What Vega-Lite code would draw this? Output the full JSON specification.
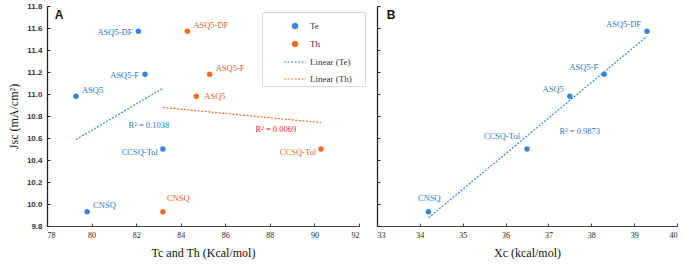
{
  "$schema": "https://vega.github.io/schema/vega-lite/v6.json",
  "padding": {"left": 7, "top": 2, "right": 2, "bottom": 2},
  "background": "white",
  "spacing": 16,
  "datasets": {
    "teth": [
      {"compound": "ASQ5-DF", "series": "Te", "T": 82.1, "Jsc": 11.57},
      {"compound": "ASQ5-F", "series": "Te", "T": 82.4, "Jsc": 11.18},
      {"compound": "ASQ5", "series": "Te", "T": 79.3, "Jsc": 10.98},
      {"compound": "CCSQ-Tol", "series": "Te", "T": 83.2, "Jsc": 10.5},
      {"compound": "CNSQ", "series": "Te", "T": 79.8, "Jsc": 9.93},
      {"compound": "ASQ5-DF", "series": "Th", "T": 84.3, "Jsc": 11.57},
      {"compound": "ASQ5-F", "series": "Th", "T": 85.3, "Jsc": 11.18},
      {"compound": "ASQ5", "series": "Th", "T": 84.7, "Jsc": 10.98},
      {"compound": "CCSQ-Tol", "series": "Th", "T": 90.3, "Jsc": 10.5},
      {"compound": "CNSQ", "series": "Th", "T": 83.2, "Jsc": 9.93}
    ],
    "xc": [
      {"compound": "ASQ5-DF", "Xc": 39.3, "Jsc": 11.57},
      {"compound": "ASQ5-F", "Xc": 38.3, "Jsc": 11.18},
      {"compound": "ASQ5", "Xc": 37.5, "Jsc": 10.98},
      {"compound": "CCSQ-Tol", "Xc": 36.5, "Jsc": 10.5},
      {"compound": "CNSQ", "Xc": 34.2, "Jsc": 9.93}
    ],
    "notesA": [
      {"note": "R² = 0.1038", "T": 82.57, "Jsc": 10.72, "kind": "Te"},
      {"note": "R² = 0.0069", "T": 88.27, "Jsc": 10.68, "kind": "Th"}
    ],
    "notesB": [
      {"note": "R² = 0.9873", "Xc": 37.73, "Jsc": 10.66}
    ],
    "panelA": [{"panel": "A", "T": 78.54, "Jsc": 11.717}],
    "panelB": [{"panel": "B", "Xc": 33.33, "Jsc": 11.717}]
  },
  "hconcat": [
    {
      "width": 312,
      "height": 220,
      "encoding": {
        "x": {"field": "T", "type": "quantitative",
          "scale": {"domain": [78, 92], "nice": false, "zero": false},
          "axis": {"title": "Tc and Th (Kcal/mol)", "values": [78, 80, 82, 84, 86, 88, 90, 92], "format": "d",
            "tickSize": -3, "labelPadding": 8, "labelFont": "Liberation Serif", "labelFontSize": 8, "labelColor": "#222",
            "titleFont": "Liberation Serif", "titleFontSize": 12, "titleFontWeight": "normal", "titleColor": "#111", "titlePadding": 8,
            "domainColor": "#404040", "tickColor": "#404040"}},
        "y": {"field": "Jsc", "type": "quantitative",
          "scale": {"domain": [9.8, 11.8], "nice": false, "zero": false},
          "axis": {"title": "Jsc (mA/cm²)", "values": [9.8, 10.0, 10.2, 10.4, 10.6, 10.8, 11.0, 11.2, 11.4, 11.6, 11.8], "format": ".1f",
            "tickSize": -3, "labelPadding": 8, "labelFont": "Liberation Sans", "labelFontWeight": "bold", "labelFontSize": 8, "labelColor": "#333",
            "titleFont": "Liberation Serif", "titleFontSize": 12, "titleFontWeight": "normal", "titleColor": "#111", "titlePadding": 6,
            "domainColor": "#222", "domainWidth": 1.3, "tickColor": "#222"}}
      },
      "layer": [
        {
          "data": {"name": "teth"},
          "transform": [{"regression": "Jsc", "on": "T", "groupby": ["series"]}],
          "mark": {"type": "line", "strokeDash": [2, 1.5], "strokeWidth": 1.2},
          "encoding": {
            "color": {"field": "series", "type": "nominal",
              "scale": {"domain": ["Te", "Th", "Linear (Te)", "Linear (Th)"], "range": ["#3a84d4", "#ed6d1f", "#3a84d4", "#ed6d1f"]},
              "legend": {
                "orient": "none", "legendX": 215, "legendY": 6,
                "title": "I", "titleOrient": "right", "titlePadding": 8, "titleFontSize": 9, "titleColor": "#ffffff", "titleOpacity": 0,
                "values": ["Te", "Th", "Linear (Te)", "Linear (Th)"],
                "labelFont": "Liberation Serif", "labelFontSize": 9, "labelColor": "#333",
                "strokeColor": "#d9d9d9", "padding": 2, "rowPadding": -1, "symbolOffset": 19, "labelOffset": 3,
                "symbolSize": 480, "symbolType": "stroke",
                "encode": {"symbols": {"update": {
                  "shape": {"signal": "datum.value === 'Te' || datum.value === 'Th' ? 'circle' : 'stroke'"},
                  "size": {"signal": "datum.value === 'Te' || datum.value === 'Th' ? 30 : 480"},
                  "fill": {"signal": "datum.value === 'Te' ? '#3a84d4' : datum.value === 'Th' ? '#ed6d1f' : 'transparent'"},
                  "stroke": {"signal": "datum.value === 'Linear (Te)' ? '#3a84d4' : datum.value === 'Linear (Th)' ? '#ed6d1f' : 'transparent'"},
                  "strokeDash": {"signal": "datum.value === 'Te' || datum.value === 'Th' ? [] : [2, 1.5]"},
                  "strokeWidth": {"value": 1.2},
                  "opacity": {"value": 1}
                }}}
              }}
          }
        },
        {
          "data": {"name": "teth"},
          "mark": {"type": "point", "filled": true, "size": 30, "opacity": 1},
          "encoding": {"color": {"field": "series", "type": "nominal"}}
        },
        {
          "data": {"name": "teth"},
          "transform": [{"filter": "datum.series === 'Te' && (datum.compound === 'ASQ5-DF' || datum.compound === 'ASQ5-F')"}],
          "mark": {"type": "text", "align": "right", "dx": -6, "dy": 1, "font": "Liberation Serif", "fontSize": 8.5, "color": "#2e74c4"},
          "encoding": {"text": {"field": "compound"}}
        },
        {
          "data": {"name": "teth"},
          "transform": [{"filter": "datum.compound === 'CCSQ-Tol'"}],
          "mark": {"type": "text", "align": "right", "dx": -5, "dy": 2.5, "font": "Liberation Serif", "fontSize": 8.5},
          "encoding": {"text": {"field": "compound"},
            "color": {"condition": {"test": "datum.series === 'Te'", "value": "#2e74c4"}, "value": "#d9641e"}}
        },
        {
          "data": {"name": "teth"},
          "transform": [{"filter": "(datum.series === 'Te' && (datum.compound === 'ASQ5' || datum.compound === 'CNSQ')) || (datum.series === 'Th' && (datum.compound === 'ASQ5-DF' || datum.compound === 'ASQ5-F'))"}],
          "mark": {"type": "text", "align": "left", "dx": 6, "dy": -6.5, "font": "Liberation Serif", "fontSize": 8.5},
          "encoding": {"text": {"field": "compound"},
            "color": {"condition": {"test": "datum.series === 'Te'", "value": "#2e74c4"}, "value": "#d9641e"}}
        },
        {
          "data": {"name": "teth"},
          "transform": [{"filter": "datum.series === 'Th' && datum.compound === 'ASQ5'"}],
          "mark": {"type": "text", "align": "left", "dx": 8, "dy": 0, "font": "Liberation Serif", "fontSize": 8.5, "color": "#d9641e"},
          "encoding": {"text": {"field": "compound"}}
        },
        {
          "data": {"name": "teth"},
          "transform": [{"filter": "datum.series === 'Th' && datum.compound === 'CNSQ'"}],
          "mark": {"type": "text", "align": "left", "dx": 4, "dy": -14, "font": "Liberation Serif", "fontSize": 8.5, "color": "#d9641e"},
          "encoding": {"text": {"field": "compound"}}
        },
        {
          "data": {"name": "notesA"},
          "mark": {"type": "text", "font": "Liberation Serif", "fontSize": 8.5},
          "encoding": {"text": {"field": "note"},
            "color": {"condition": {"test": "datum.kind === 'Te'", "value": "#2e74c4"}, "value": "#e0202a"}}
        },
        {
          "data": {"name": "panelA"},
          "mark": {"type": "text", "font": "Liberation Sans", "fontWeight": "bold", "fontSize": 12, "color": "#111"},
          "encoding": {"text": {"field": "panel"}}
        }
      ]
    },
    {
      "width": 300,
      "height": 220,
      "encoding": {
        "x": {"field": "Xc", "type": "quantitative",
          "scale": {"domain": [33, 40], "nice": false, "zero": false},
          "axis": {"title": "Xc (kcal/mol)", "values": [33, 34, 35, 36, 37, 38, 39, 40], "format": "d",
            "tickSize": -3, "labelPadding": 8, "labelFont": "Liberation Serif", "labelFontSize": 8, "labelColor": "#222",
            "titleFont": "Liberation Serif", "titleFontSize": 12, "titleFontWeight": "normal", "titleColor": "#111", "titlePadding": 8,
            "domainColor": "#404040", "tickColor": "#404040"}},
        "y": {"field": "Jsc", "type": "quantitative",
          "scale": {"domain": [9.8, 11.8], "nice": false, "zero": false},
          "axis": {"title": null, "labels": false, "values": [9.8, 10.0, 10.2, 10.4, 10.6, 10.8, 11.0, 11.2, 11.4, 11.6, 11.8],
            "tickSize": -3, "domainColor": "#222", "domainWidth": 1.3, "tickColor": "#222"}}
      },
      "layer": [
        {
          "data": {"name": "xc"},
          "transform": [{"regression": "Jsc", "on": "Xc"}],
          "mark": {"type": "line", "strokeDash": [2, 1.5], "strokeWidth": 1.2, "color": "#3a84d4"},
          "encoding": {}
        },
        {
          "data": {"name": "xc"},
          "mark": {"type": "point", "filled": true, "size": 30, "opacity": 1, "color": "#3a84d4"},
          "encoding": {}
        },
        {
          "data": {"name": "xc"},
          "transform": [{"filter": "datum.compound === 'ASQ5-DF' || datum.compound === 'ASQ5-F' || datum.compound === 'ASQ5'"}],
          "mark": {"type": "text", "align": "right", "dx": -6, "dy": -7, "font": "Liberation Serif", "fontSize": 8.5, "color": "#2e74c4"},
          "encoding": {"text": {"field": "compound"}}
        },
        {
          "data": {"name": "xc"},
          "transform": [{"filter": "datum.compound === 'CCSQ-Tol'"}],
          "mark": {"type": "text", "align": "right", "dx": -7, "dy": -13, "font": "Liberation Serif", "fontSize": 8.5, "color": "#2e74c4"},
          "encoding": {"text": {"field": "compound"}}
        },
        {
          "data": {"name": "xc"},
          "transform": [{"filter": "datum.compound === 'CNSQ'"}],
          "mark": {"type": "text", "align": "center", "dx": 1, "dy": -14, "font": "Liberation Serif", "fontSize": 8.5, "color": "#2e74c4"},
          "encoding": {"text": {"field": "compound"}}
        },
        {
          "data": {"name": "notesB"},
          "mark": {"type": "text", "font": "Liberation Serif", "fontSize": 8.5, "color": "#2e74c4"},
          "encoding": {"text": {"field": "note"}}
        },
        {
          "data": {"name": "panelB"},
          "mark": {"type": "text", "font": "Liberation Sans", "fontWeight": "bold", "fontSize": 12, "color": "#111"},
          "encoding": {"text": {"field": "panel"}}
        }
      ]
    }
  ],
  "config": {
    "view": {"stroke": null},
    "axis": {"grid": false}
  }
}
